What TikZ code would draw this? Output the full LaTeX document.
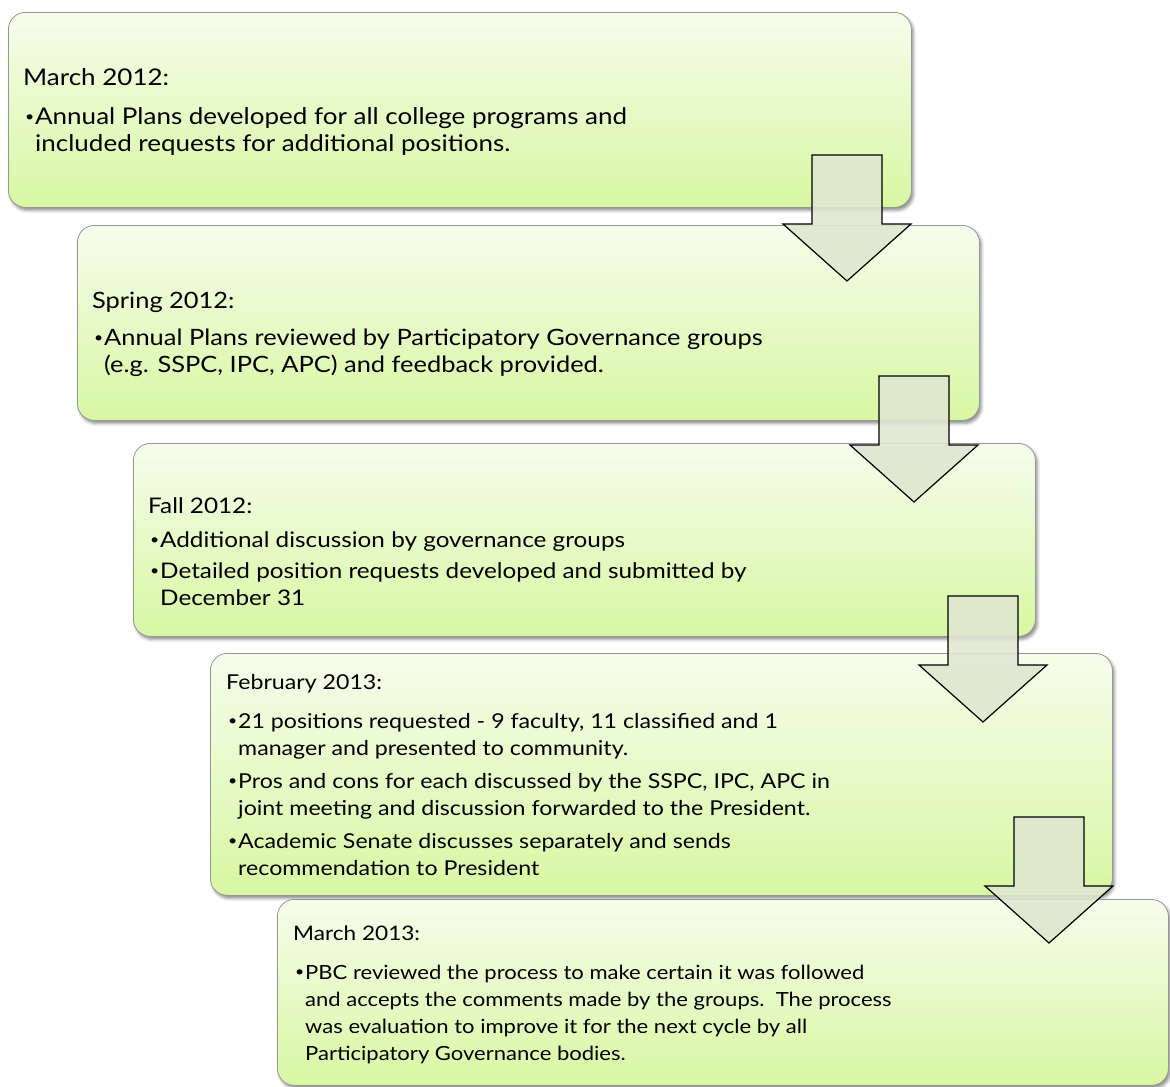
\documentclass[tikz,border=0pt]{standalone}
\usepackage{fontspec}
\setmainfont{Lato}[FakeStretch=1.13]
\usetikzlibrary{shadows.blur}
\definecolor{boxtop}{RGB}{245,253,236}
\definecolor{boxbot}{RGB}{216,247,162}
\definecolor{boxline}{RGB}{150,150,150}
\definecolor{arrowfill}{RGB}{223,230,208}
\tikzset{
  stagebox/.style={draw=boxline, line width=0.8pt, rounded corners=17pt,
    top color=boxtop, bottom color=boxbot, anchor=north west, inner sep=0pt,
    blur shadow={shadow xshift=2pt, shadow yshift=-3pt, shadow blur radius=3pt, shadow opacity=45}},
  txt/.style={anchor=base west, inner sep=0pt, font=\fontsize{#1}{27}\selectfont},
  txt/.default=23,
  dot/.style={anchor=base west, inner sep=0pt, font=\fontsize{14}{14}\selectfont},
  blockarrow/.style={draw=black, line width=1.2pt, fill=arrowfill, fill opacity=0.88, line join=miter},
}
\newcommand\bul{\raisebox{2.5pt}{•}}
\begin{document}
\begin{tikzpicture}[x=1pt,y=-1pt]
\useasboundingbox (0,0) rectangle (1170,1087);
% boxes
\node[stagebox, minimum width=903pt, minimum height=195pt] (b1) at (8,12) {};
\node[stagebox, minimum width=902pt, minimum height=195pt] (b2) at (77,225) {};
\node[stagebox, minimum width=902pt, minimum height=193pt] (b3) at (133,443) {};
\node[stagebox, minimum width=902pt, minimum height=242pt] (b4) at (210,653) {};
\node[stagebox, minimum width=891pt, minimum height=186pt] (b5) at (277,899) {};
% box 1 text
\node[txt] (t1) at (23,85) {March 2012:};
\node[dot] (d1) at (25,124) {\bul};
\node[txt] (t1a) at (35,124) {Annual Plans developed for all college programs and};
\node[txt] (t1b) at (35,151) {included requests for additional positions.};
% box 2 text
\node[txt=22.5] (t2) at (92,308) {Spring 2012:};
\node[dot] (d2) at (94,345) {\bul};
\node[txt=22.5] (t2a) at (104,345) {Annual Plans reviewed by Participatory Governance groups};
\node[txt=22.5] (t2b) at (104,372) {(e.g. SSPC, IPC, APC) and feedback provided.};
% box 3 text
\node[txt=21.5] (t3) at (148,513) {Fall 2012:};
\node[dot] (d3) at (150,547) {\bul};
\node[txt=21.5] (t3a) at (160,547) {Additional discussion by governance groups};
\node[dot] (d3b) at (150,578) {\bul};
\node[txt=21.5] (t3b) at (160,578) {Detailed position requests developed and submitted by};
\node[txt=21.5] (t3c) at (160,605) {December 31};
% box 4 text
\node[txt=20.5] (t4) at (226,689) {February 2013:};
\node[dot] (d4) at (228,728) {\bul};
\node[txt=20.5] (t4a) at (238,728) {21 positions requested - 9 faculty, 11 classified and 1};
\node[txt=20.5] (t4b) at (238,755) {manager and presented to community.};
\node[dot] (d4b) at (228,788) {\bul};
\node[txt=20.5] (t4c) at (238,788) {Pros and cons for each discussed by the SSPC, IPC, APC in};
\node[txt=20.5] (t4d) at (238,815) {joint meeting and discussion forwarded to the President.};
\node[dot] (d4c) at (228,848) {\bul};
\node[txt=20.5] (t4e) at (238,848) {Academic Senate discusses separately and sends};
\node[txt=20.5] (t4f) at (238,875) {recommendation to President};
% box 5 text
\node[txt=20] (t5) at (293,940) {March 2013:};
\node[dot] (d5) at (295,979) {\bul};
\node[txt=19.5] (t5a) at (305,979) {PBC reviewed the process to make certain it was followed};
\node[txt=19.5] (t5b) at (305,1006) {and accepts the comments made by the groups.\ \ The process};
\node[txt=19.5] (t5c) at (305,1033) {was evaluation to improve it for the next cycle by all};
\node[txt=19.5] (t5d) at (305,1060) {Participatory Governance bodies.};
% block arrows
\foreach \cx/\ty [count=\i] in {847/155, 914/376, 983/596, 1049/817}{
  \draw[blockarrow] (\cx-35,\ty) -- (\cx+35,\ty) -- (\cx+35,\ty+69) -- (\cx+64,\ty+69)
    -- (\cx,\ty+126) -- (\cx-64,\ty+69) -- (\cx-35,\ty+69) -- cycle;
}
\end{tikzpicture}
\end{document}
